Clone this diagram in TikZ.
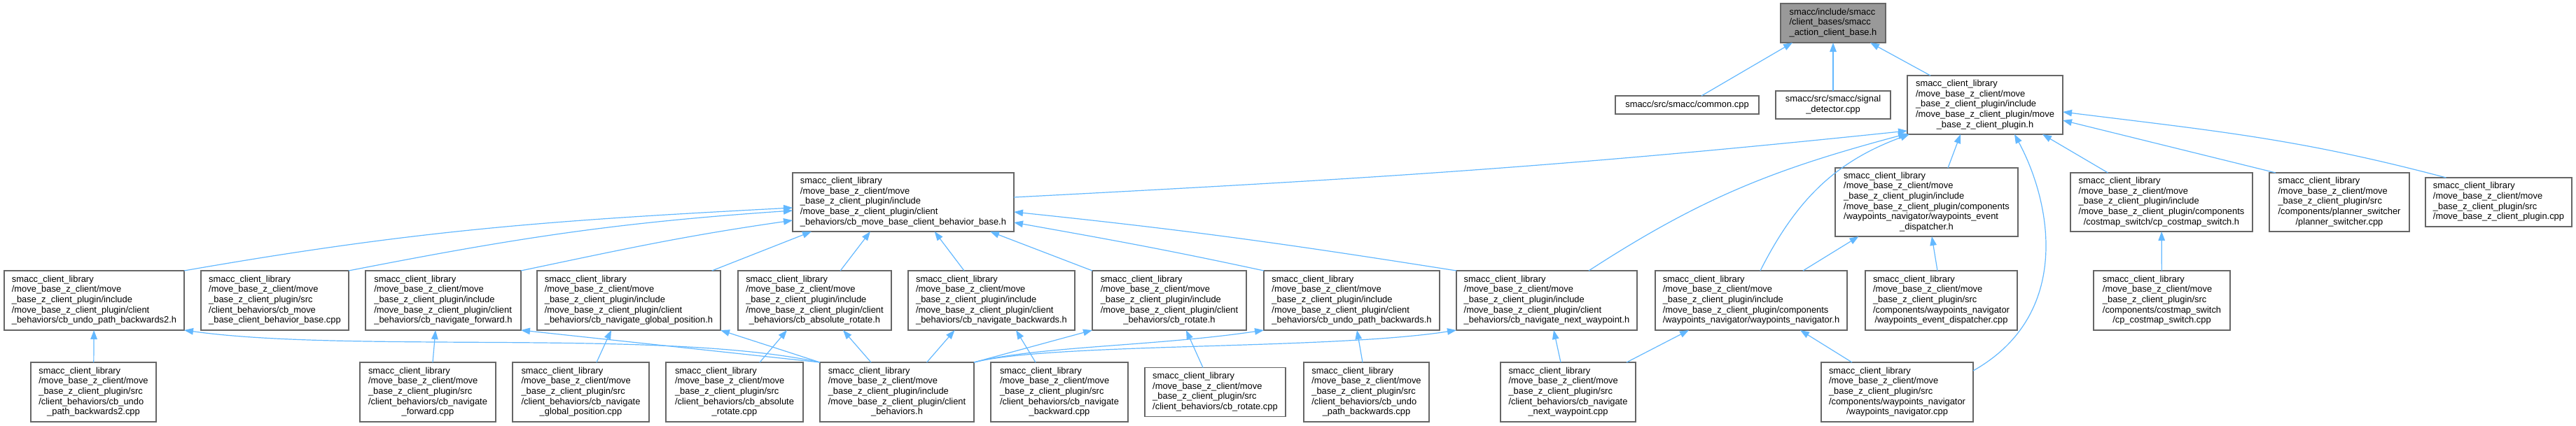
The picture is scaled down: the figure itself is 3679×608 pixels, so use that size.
\documentclass[tikz,border=0pt]{standalone}
\usepackage{xcolor}
\usepackage{fontspec}
\setmainfont{Liberation Sans}
\usepackage{tikz}
\usetikzlibrary{arrows.meta,positioning}

\definecolor{gray40}{HTML}{666666}
\definecolor{gray60}{HTML}{999999}
\definecolor{steelblue1}{HTML}{63B8FF}

% label lines: flush left, last one centred
\newcommand{\flines}[2]{\begin{tabular}{@{}l@{}}#1\\\multicolumn{1}{@{}c@{}}{#2}\end{tabular}}
\newcommand{\libinc}{smacc\_client\_library\\/move\_base\_z\_client/move\\\_base\_z\_client\_plugin/include\\/move\_base\_z\_client\_plugin/}
\newcommand{\libsrc}{smacc\_client\_library\\/move\_base\_z\_client/move\\\_base\_z\_client\_plugin/src\\/}

\begin{document}
\begin{tikzpicture}[
    x=1pt, y=-1pt,
    node distance=24pt,
    filebox/.style={rectangle, draw=gray40, fill=white, line width=1.4pt, inner sep=0pt, outer sep=0pt, minimum height=85pt, font=\fontsize{12.9pt}{14.67pt}\selectfont},
    rootbox/.style={filebox, fill=gray60},
    arrow/.style={-{Triangle[length=13pt,width=9.5pt]}, draw=steelblue1, line width=1.2pt}
]
    \useasboundingbox (0,0) rectangle (3679,608);

    % Included file
    \node [rootbox, minimum width=150pt, minimum height=56pt] (actionbase) at (2618,33) {\flines{smacc/include/smacc\\/client\_bases/smacc}{\_action\_client\_base.h}};

    % Direct includers
    \node [filebox, minimum width=205pt, minimum height=26pt] (common) at (2409.5,150) {smacc/src/smacc/common.cpp};
    \node [filebox, minimum width=164pt, minimum height=40pt, right=of common] (signaldet) {\flines{smacc/src/smacc/signal}{\_detector.cpp}};
    \node [filebox, minimum width=222pt, minimum height=84pt, right=of signaldet] (plugin) {\flines{\libinc move}{\_base\_z\_client\_plugin.h}};

    % Plugin level
    \node [filebox, minimum width=316pt, minimum height=84pt] (cbbase) at (1290,289) {\flines{\libinc client}{\_behaviors/cb\_move\_base\_client\_behavior\_base.h}};
    \node [filebox, minimum width=261pt, minimum height=98pt] (wpdisph) at (2751.5,289) {\flines{\libinc components\\/waypoints\_navigator/waypoints\_event}{\_dispatcher.h}};
    \node [filebox, minimum width=260pt, minimum height=84pt, right=75pt of wpdisph] (costmaph) {\flines{\libinc components}{/costmap\_switch/cp\_costmap\_switch.h}};
    \node [filebox, minimum width=200pt, minimum height=84pt, right=of costmaph] (plannersw) {\flines{\libsrc components/planner\_switcher}{/planner\_switcher.cpp}};
    \node [filebox, minimum width=209pt, minimum height=70pt, right=23pt of plannersw] (plugincpp) {\flines{smacc\_client\_library\\/move\_base\_z\_client/move\\\_base\_z\_client\_plugin/src}{/move\_base\_z\_client\_plugin.cpp}};

    % Behaviour headers
    \node [filebox, minimum width=257pt] (undo2h) at (134.5,429.5) {\flines{\libinc client}{\_behaviors/cb\_undo\_path\_backwards2.h}};
    \node [filebox, minimum width=211pt, right=of undo2h] (cbbasecpp) {\flines{\libsrc client\_behaviors/cb\_move}{\_base\_client\_behavior\_base.cpp}};
    \node [filebox, minimum width=222pt, right=of cbbasecpp] (navfwdh) {\flines{\libinc client}{\_behaviors/cb\_navigate\_forward.h}};
    \node [filebox, minimum width=262pt, right=23pt of navfwdh] (navglobh) {\flines{\libinc client}{\_behaviors/cb\_navigate\_global\_position.h}};
    \node [filebox, minimum width=219pt, right=25pt of navglobh] (absroth) {\flines{\libinc client}{\_behaviors/cb\_absolute\_rotate.h}};
    \node [filebox, minimum width=238pt, right=of absroth] (navbackh) {\flines{\libinc client}{\_behaviors/cb\_navigate\_backwards.h}};
    \node [filebox, minimum width=220pt, right=25pt of navbackh] (rotateh) {\flines{\libinc client}{\_behaviors/cb\_rotate.h}};
    \node [filebox, minimum width=251pt, right=25pt of rotateh] (undoh) {\flines{\libinc client}{\_behaviors/cb\_undo\_path\_backwards.h}};
    \node [filebox, minimum width=258pt, right=of undoh] (navnexth) {\flines{\libinc client}{\_behaviors/cb\_navigate\_next\_waypoint.h}};
    \node [filebox, minimum width=274pt, right=26pt of navnexth] (wpnavh) {\flines{\libinc components}{/waypoints\_navigator/waypoints\_navigator.h}};
    \node [filebox, minimum width=217pt, right=26pt of wpnavh] (wpdispcpp) {\flines{\libsrc components/waypoints\_navigator}{/waypoints\_event\_dispatcher.cpp}};
    \node [filebox, minimum width=195pt, right=109pt of wpdispcpp] (costmapcpp) {\flines{\libsrc components/costmap\_switch}{/cp\_costmap\_switch.cpp}};

    % Sources and client_behaviors.h
    \node [filebox, minimum width=179pt] (undo2cpp) at (133.5,560.5) {\flines{\libsrc client\_behaviors/cb\_undo}{\_path\_backwards2.cpp}};
    \node [filebox, minimum width=194pt] (navfwdcpp) at (611,560.5) {\flines{\libsrc client\_behaviors/cb\_navigate}{\_forward.cpp}};
    \node [filebox, minimum width=195pt, right=of navfwdcpp] (navglobcpp) {\flines{\libsrc client\_behaviors/cb\_navigate}{\_global\_position.cpp}};
    \node [filebox, minimum width=196pt, right=of navglobcpp] (absrotcpp) {\flines{\libsrc client\_behaviors/cb\_absolute}{\_rotate.cpp}};
    \node [filebox, minimum width=220pt, right=of absrotcpp] (behaviorsh) {\flines{\libinc client}{\_behaviors.h}};
    \node [filebox, minimum width=196pt, right=of behaviorsh] (navbackcpp) {\flines{\libsrc client\_behaviors/cb\_navigate}{\_backward.cpp}};
    \node [filebox, minimum width=201pt, minimum height=70pt, right=of navbackcpp] (rotatecpp) {\flines{smacc\_client\_library\\/move\_base\_z\_client/move\\\_base\_z\_client\_plugin/src}{/client\_behaviors/cb\_rotate.cpp}};
    \node [filebox, minimum width=179pt, right=26pt of rotatecpp] (undocpp) {\flines{\libsrc client\_behaviors/cb\_undo}{\_path\_backwards.cpp}};
    \node [filebox, minimum width=193pt, right=102pt of undocpp] (navnextcpp) {\flines{\libsrc client\_behaviors/cb\_navigate}{\_next\_waypoint.cpp}};
    \node [filebox, minimum width=217pt, right=265pt of navnextcpp] (wpnavcpp) {\flines{\libsrc components/waypoints\_navigator}{/waypoints\_navigator.cpp}};

    % Connections to the included file
    \draw [arrow] ([xshift=20.5pt]common.north) -- ([xshift=-58pt]actionbase.south);
    \draw [arrow] (signaldet) -- (actionbase);
    \draw [arrow] ([xshift=-78pt]plugin.north) -- ([xshift=53pt]actionbase.south);

    % Connections to the plugin header
    \draw [arrow] ([yshift=7pt]cbbase.east) .. controls +(499,-26) and +(-497,52) .. ([yshift=5pt]plugin.south west);
    \draw [arrow] ([xshift=60pt]navnexth.north) .. controls +(163,-106) and +(-187,50) .. ([yshift=1pt]plugin.south west);
    \draw [arrow] ([xshift=13pt]wpnavh.north) .. controls +(51,-101) and +(-106,39) .. ([xshift=3pt]plugin.south west);
    \draw [arrow] ([xshift=30.5pt]wpdisph.north) -- ([xshift=-35pt]plugin.south);
    \draw [arrow] ([yshift=-12pt]wpnavcpp.north east) .. controls +(142,-80) and +(53,98) .. ([xshift=42pt]plugin.south);
    \draw [arrow] ([xshift=-76.5pt]costmaph.north) -- ([xshift=82pt]plugin.south);
    \draw [arrow] ([xshift=-91pt]plannersw.north) -- ([yshift=-22pt]plugin.east);
    \draw [arrow] ([xshift=-75pt]plugincpp.north) .. controls +(-211,-56) and +(216,27) .. ([yshift=-10pt]plugin.east);

    % Connections to the behaviour base
    \draw [arrow] (undo2h.north east) .. controls +(337,-59) and +(-342,18) .. ([yshift=-8pt]cbbase.west);
    \draw [arrow] (cbbasecpp.north east) .. controls +(245,-48) and +(-249,17) .. ([yshift=-12pt]cbbase.west);
    \draw [arrow] (navfwdh.north east) .. controls +(152,-32) and +(-153,22) .. ([yshift=-26pt]cbbase.west);
    \draw [arrow] ([xshift=118.7pt]navglobh.north) -- ([xshift=-131pt]cbbase.south);
    \draw [arrow] ([xshift=36.7pt]absroth.north) -- ([xshift=-47pt]cbbase.south);
    \draw [arrow] ([xshift=-39pt]navbackh.north) -- ([xshift=44.7pt]cbbase.south);
    \draw [arrow] (rotateh.north west) -- ([xshift=124pt]cbbase.south);
    \draw [arrow] (undoh.north west) .. controls +(-139,-30) and +(140,25) .. ([yshift=-29pt]cbbase.east);
    \draw [arrow] (navnexth.north west) .. controls +(-247,-39) and +(249,26) .. ([yshift=-14pt]cbbase.east);

    % Connections from client_behaviors.h
    \draw [arrow] (behaviorsh.north west) .. controls +(-221,-48) and +(237,33) .. (undo2h.south east);
    \draw [arrow] (behaviorsh.north west) -- (navfwdh.south east);
    \draw [arrow] (behaviorsh.north west) -- (navglobh.south east);
    \draw [arrow] ([xshift=-37pt]behaviorsh.north) -- ([xshift=40.5pt]absroth.south);
    \draw [arrow] ([xshift=42.6pt]behaviorsh.north) -- ([xshift=-52.5pt]navbackh.south);
    \draw [arrow] (behaviorsh.north east) -- (rotateh.south west);
    \draw [arrow] (behaviorsh.north east) .. controls +(89,-23) and +(-155,23) .. (undoh.south west);
    \draw [arrow] (behaviorsh.north east) .. controls +(109,-28) and +(-180,28) .. (navnexth.south west);

    % Connections from the sources
    \draw [arrow] (undo2cpp) -- (undo2h);
    \draw [arrow] ([xshift=7pt]navfwdcpp.north) -- ([xshift=-11pt]navfwdh.south);
    \draw [arrow] ([xshift=22.5pt]navglobcpp.north) -- ([xshift=-25pt]navglobh.south);
    \draw [arrow] ([xshift=36pt]absrotcpp.north) -- ([xshift=-39.5pt]absroth.south);
    \draw [arrow] ([xshift=-34pt]navbackcpp.north) -- ([xshift=35pt]navbackh.south);
    \draw [arrow] ([xshift=-17.5pt]rotatecpp.north) -- ([xshift=24pt]rotateh.south);
    \draw [arrow] ([xshift=-5.5pt]undocpp.north) -- ([xshift=7.5pt]undoh.south);
    \draw [arrow] ([xshift=-10.5pt]navnextcpp.north) -- ([xshift=10pt]navnexth.south);
    \draw [arrow] ([xshift=83.5pt]navnextcpp.north) -- ([xshift=-89pt]wpnavh.south);
    \draw [arrow] ([xshift=-64.5pt]wpnavcpp.north) -- ([xshift=70pt]wpnavh.south);
    \draw [arrow] ([xshift=-5.5pt]wpdispcpp.north) -- ([xshift=7.5pt]wpdisph.south);
    \draw [arrow] ([xshift=74pt]wpnavh.north) -- ([xshift=-97pt]wpdisph.south);
    \draw [arrow] (costmapcpp) -- (costmaph);
\end{tikzpicture}
\end{document}
